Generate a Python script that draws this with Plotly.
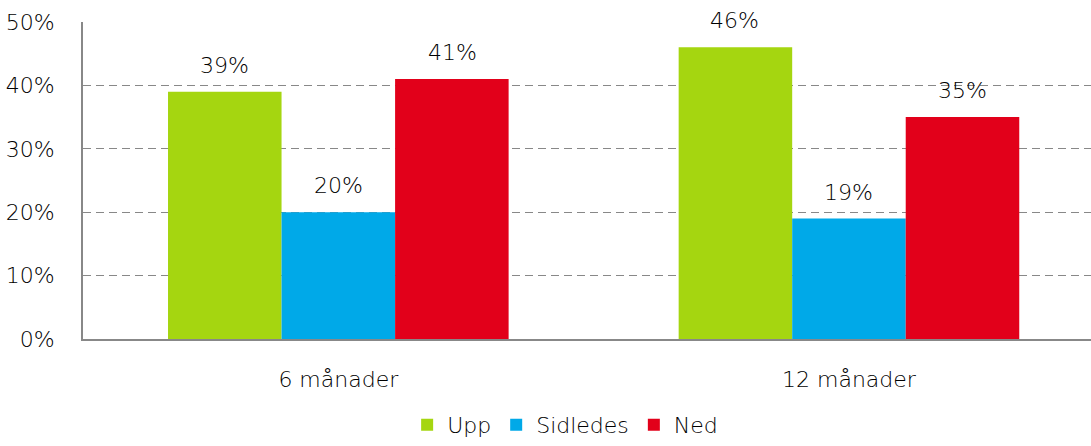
import plotly.graph_objects as go

categories = ["6 månader", "12 månader"]
series_names = ["Upp", "Sidledes", "Ned"]
upp = [39, 46]
sidledes = [20, 19]
ned = [41, 35]
colors = ["#A5D610", "#00A9E8", "#E2001A"]
yticks = [0, 10, 20, 30, 40, 50]

FONT = "'DejaVu Sans', sans-serif"
FS = 22
FCOL = "#000"
WEIGHT = 200
values = [upp, sidledes, ned]

fig = go.Figure()
for name, vals, col in zip(series_names, values, colors):
    fig.add_trace(go.Bar(
        x=categories, y=vals, name=name, marker_color=col,
        marker_line_width=0,
    ))

# value labels
offsets = [-1, 0, 1]
annotations = []
for k, vals in enumerate(values):
    for i, v in enumerate(vals):
        annotations.append(dict(
            x=i, y=v, xref="x", yref="y", text=f"{v}%",
            showarrow=False, yanchor="bottom", yshift=12,
            xshift=offsets[k] * 114,
            font=dict(family=FONT, size=FS, color=FCOL, weight=WEIGHT),
        ))

tf = dict(family=FONT, size=FS, color=FCOL, weight=WEIGHT)

fig.update_layout(
    width=1091, height=446,
    margin=dict(l=83, r=0, t=22, b=107),
    paper_bgcolor="white", plot_bgcolor="white",
    barmode="group", bargap=0.333, bargroupgap=0,
    font=tf,
    annotations=annotations,
    legend=dict(
        orientation="h", xref="container", yref="container",
        x=0.518, xanchor="center", y=-0.024, yanchor="bottom",
        font=tf, itemwidth=30, tracegroupgap=0,
    ),
    xaxis=dict(
        type="category", range=[-0.5, 1.474], automargin=False,
        showline=True, linecolor="#888", linewidth=2,
        showgrid=False, ticks="", ticklabelstandoff=20,
        tickfont=tf,
    ),
    yaxis=dict(
        range=[0, 50], tickvals=yticks, automargin=False,
        ticktext=[f"{t}%" for t in yticks],
        showline=True, linecolor="#888", linewidth=2,
        showgrid=True, gridcolor="#888", griddash="8px,5px", gridwidth=1.3,
        zeroline=False, ticks="", ticklabelstandoff=22,
        tickfont=tf,
    ),
)

fig.write_html(
    "out.html",
    config={"displayModeBar": False},
    post_script="document.body.style.margin='0';",
)
